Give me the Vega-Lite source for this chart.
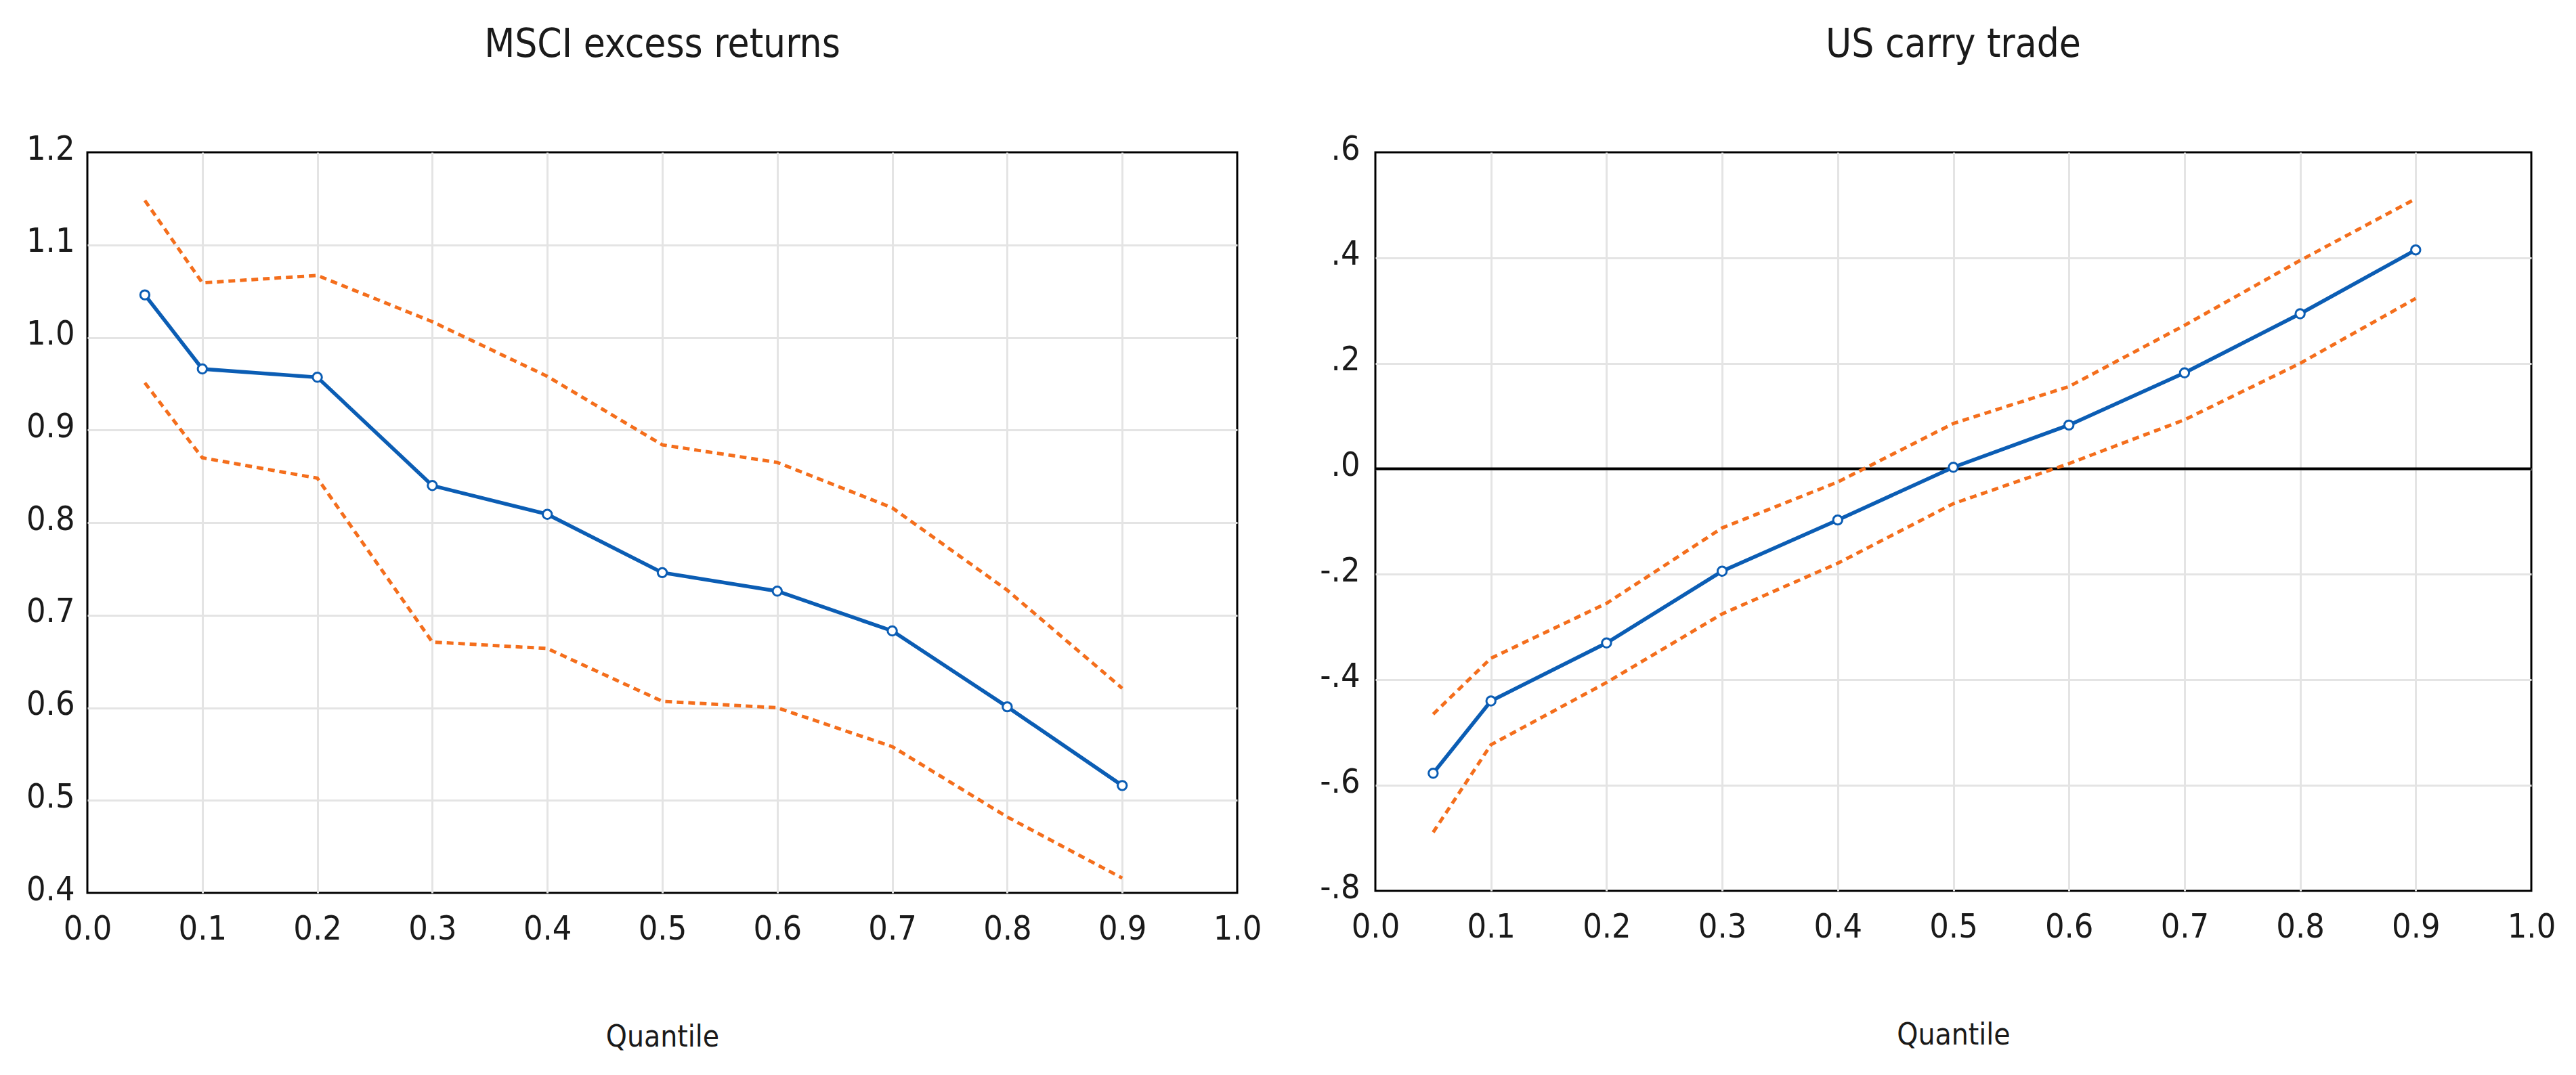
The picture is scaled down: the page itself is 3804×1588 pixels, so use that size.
{
  "$schema": "https://vega.github.io/schema/vega-lite/v6.json",
  "autosize": {"type": "none"},
  "padding": {"left": 129, "top": 225, "right": 3675, "bottom": 1363},
  "background": "white",
  "spacing": 204,
  "bounds": "flush",
  "config": {
    "font": "DejaVu Sans Condensed, Liberation Sans Narrow, sans-serif",
    "view": {"stroke": "black", "strokeWidth": 3},
    "title": {"fontSize": 58, "fontWeight": "normal", "color": "#1a1a1a", "anchor": "middle", "frame": "group", "baseline": "alphabetic", "offset": 99},
    "axis": {"labelFontSize": 50, "labelColor": "#1a1a1a", "ticks": false, "tickSize": 0, "domain": false, "gridColor": "#e4e4e4", "gridWidth": 3, "titleFontSize": 44, "titleFontWeight": "normal", "titleColor": "#1a1a1a", "labelOverlap": false, "labelFlush": false, "labelBound": false},
    "axisX": {"labelPadding": 28, "titleY": 226, "titleBaseline": "alphabetic"},
    "axisY": {"labelPadding": 19, "labelOffset": -5, "labelBaseline": "middle"}
  },
  "datasets": {
    "msci": [
      {"q": 0.05, "coef": 1.046, "hi": 1.148, "lo": 0.951},
      {"q": 0.1, "coef": 0.966, "hi": 1.059, "lo": 0.870},
      {"q": 0.2, "coef": 0.957, "hi": 1.067, "lo": 0.848},
      {"q": 0.3, "coef": 0.840, "hi": 1.017, "lo": 0.671},
      {"q": 0.4, "coef": 0.809, "hi": 0.958, "lo": 0.664},
      {"q": 0.5, "coef": 0.746, "hi": 0.884, "lo": 0.607},
      {"q": 0.6, "coef": 0.726, "hi": 0.865, "lo": 0.600},
      {"q": 0.7, "coef": 0.683, "hi": 0.816, "lo": 0.558},
      {"q": 0.8, "coef": 0.601, "hi": 0.727, "lo": 0.482},
      {"q": 0.9, "coef": 0.516, "hi": 0.621, "lo": 0.416}
    ],
    "carry": [
      {"q": 0.05, "coef": -0.577, "hi": -0.465, "lo": -0.689},
      {"q": 0.1, "coef": -0.440, "hi": -0.359, "lo": -0.523},
      {"q": 0.2, "coef": -0.330, "hi": -0.255, "lo": -0.405},
      {"q": 0.3, "coef": -0.194, "hi": -0.112, "lo": -0.275},
      {"q": 0.4, "coef": -0.097, "hi": -0.025, "lo": -0.179},
      {"q": 0.5, "coef": 0.003, "hi": 0.086, "lo": -0.066},
      {"q": 0.6, "coef": 0.083, "hi": 0.156, "lo": 0.010},
      {"q": 0.7, "coef": 0.182, "hi": 0.272, "lo": 0.093},
      {"q": 0.8, "coef": 0.294, "hi": 0.395, "lo": 0.200},
      {"q": 0.9, "coef": 0.415, "hi": 0.512, "lo": 0.323}
    ]
  },
  "hconcat": [
    {
      "width": 1698,
      "height": 1094,
      "title": {"text": "MSCI excess returns"},
      "data": {"name": "msci"},
      "transform": [{"fold": ["coef", "hi", "lo"], "as": ["band", "val"]}],
      "encoding": {
        "x": {"field": "q", "type": "quantitative", "scale": {"domain": [0, 1], "nice": false, "zero": false},
              "axis": {"title": "Quantile", "values": [0, 0.1, 0.2, 0.3, 0.4, 0.5, 0.6, 0.7, 0.8, 0.9, 1.0], "format": ".1f",
                       "gridOpacity": {"condition": {"test": "datum.value <= 0.001 || datum.value >= 0.999", "value": 0}, "value": 1}}},
        "y": {"field": "val", "type": "quantitative", "scale": {"domain": [0.4, 1.2], "nice": false, "zero": false},
              "axis": {"title": null, "values": [0.4, 0.5, 0.6, 0.7, 0.8, 0.9, 1.0, 1.1, 1.2], "format": ".1f",
                       "gridOpacity": {"condition": {"test": "datum.value <= 0.401 || datum.value >= 1.199", "value": 0}, "value": 1}}}
      },
      "layer": [
        {
          "transform": [{"filter": "datum.band != 'coef'"}],
          "mark": {"type": "line", "color": "#F46E1C", "strokeWidth": 5, "strokeDash": [10, 7]},
          "encoding": {"detail": {"field": "band"}}
        },
        {
          "transform": [{"filter": "datum.band == 'coef'"}],
          "mark": {"type": "line", "color": "#0B5DB4", "strokeWidth": 5.5}
        },
        {
          "transform": [{"filter": "datum.band == 'coef'"}],
          "mark": {"type": "point", "shape": "circle", "size": 180, "filled": true, "fill": "white", "stroke": "#0B5DB4", "strokeWidth": 3, "opacity": 1}
        }
      ]
    },
    {
      "width": 1707,
      "height": 1091,
      "title": {"text": "US carry trade"},
      "data": {"name": "carry"},
      "transform": [{"fold": ["coef", "hi", "lo"], "as": ["band", "val"]}],
      "encoding": {
        "x": {"field": "q", "type": "quantitative", "scale": {"domain": [0, 1], "nice": false, "zero": false},
              "axis": {"title": "Quantile", "values": [0, 0.1, 0.2, 0.3, 0.4, 0.5, 0.6, 0.7, 0.8, 0.9, 1.0], "format": ".1f",
                       "gridOpacity": {"condition": {"test": "datum.value <= 0.001 || datum.value >= 0.999", "value": 0}, "value": 1}}},
        "y": {"field": "val", "type": "quantitative", "scale": {"domain": [-0.8, 0.6], "nice": false, "zero": false},
              "axis": {"title": null, "values": [-0.8, -0.6, -0.4, -0.2, 0, 0.2, 0.4, 0.6], "labelPadding": 23,
                       "labelExpr": "replace(replace(format(datum.value, '.1f'), '0.', '.'), '\u2212', '-')",
                       "gridOpacity": {"condition": {"test": "datum.value <= -0.799 || datum.value >= 0.599", "value": 0}, "value": 1}}}
      },
      "layer": [
        {
          "data": {"values": [{"zero": 0}]},
          "mark": {"type": "rule", "color": "black", "strokeWidth": 4},
          "encoding": {"y": {"field": "zero", "type": "quantitative"}, "x": null}
        },
        {
          "transform": [{"filter": "datum.band != 'coef'"}],
          "mark": {"type": "line", "color": "#F46E1C", "strokeWidth": 5, "strokeDash": [10, 7]},
          "encoding": {"detail": {"field": "band"}}
        },
        {
          "transform": [{"filter": "datum.band == 'coef'"}],
          "mark": {"type": "line", "color": "#0B5DB4", "strokeWidth": 5.5}
        },
        {
          "transform": [{"filter": "datum.band == 'coef'"}],
          "mark": {"type": "point", "shape": "circle", "size": 180, "filled": true, "fill": "white", "stroke": "#0B5DB4", "strokeWidth": 3, "opacity": 1}
        }
      ]
    }
  ]
}
